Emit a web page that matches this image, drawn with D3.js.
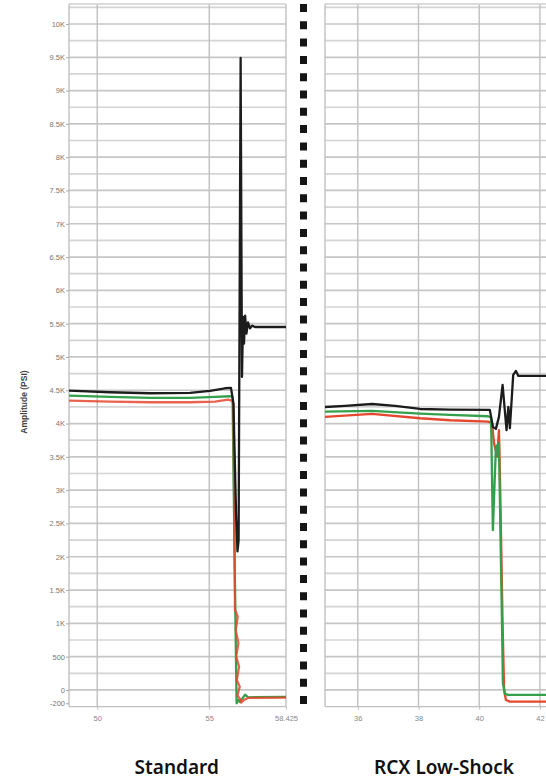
<!DOCTYPE html>
<html>
<head>
<meta charset="utf-8">
<script src="https://cdn.jsdelivr.net/npm/d3@7"></script>
<style>
  html, body { margin: 0; padding: 0; background: #fff; }
  svg { display: block; }
</style>
</head>
<body>
<svg id="chart" width="546" height="784"></svg>
<script>
// ---------- data ----------
const yTickValues = [-200, 0, 500, 1000, 1500, 2000, 2500, 3000, 3500, 4000, 4500, 5000, 5500, 6000, 6500, 7000, 7500, 8000, 8500, 9000, 9500, 10000];
const yTickLabels = ["-200", "0", "500", "1K", "1.5K", "2K", "2.5K", "3K", "3.5K", "4K", "4.5K", "5K", "5.5K", "6K", "6.5K", "7K", "7.5K", "8K", "8.5K", "9K", "9.5K", "10K"];
const leftXTicks = [50, 55, 58.425];
const leftXTickLabels = ["50", "55", "58.425"];
const rightXTicks = [36, 38, 40, 42];
const rightXTickLabels = ["36", "38", "40", "42"];
const panelTitles = ["Standard", "RCX Low-Shock"];
const yAxisTitle = "Amplitude (PSI)";

// Standard (left) series: [time, psi]
const stdBlack = [[48.74,4494],[50.57,4470],[52.36,4455],[54.14,4460],[55.03,4490],[55.70,4530],[55.97,4535],[56.08,4300],[56.20,2600],[56.26,2080],[56.31,2250],[56.40,9490],[56.46,4700],[56.51,5600],[56.55,5200],[56.60,5620],[56.66,5350],[56.73,5520],[56.82,5430],[56.91,5470],[57.04,5450],[58.425,5450]];
const stdGreen = [[48.74,4419],[50.57,4400],[52.36,4385],[54.14,4385],[55.26,4400],[55.93,4410],[56.04,4400],[56.13,2000],[56.22,-200],[56.28,-150],[56.37,-180],[56.60,-70],[56.73,-110],[58.425,-105]];
const stdRed = [[48.74,4344],[50.57,4330],[52.36,4320],[54.14,4320],[55.26,4330],[55.84,4360],[56.02,4340],[56.08,4300],[56.15,1200],[56.27,1100],[56.18,900],[56.30,700],[56.20,500],[56.33,350],[56.23,150],[56.36,50],[56.26,-80],[56.40,-150],[56.42,-190],[56.55,-150],[56.73,-120],[58.425,-115]];

// RCX Low-Shock (right) series: [time, psi]
const rcxBlack = [[34.92,4249],[35.58,4265],[36.47,4294],[37.23,4265],[38.05,4219],[39.04,4210],[40.35,4205],[40.45,3950],[40.55,3920],[40.65,4100],[40.77,4580],[40.90,3900],[40.96,4250],[41.01,3930],[41.12,4730],[41.21,4790],[41.29,4715],[42.2,4715]];
const rcxGreen = [[34.92,4180],[36.47,4190],[38.05,4150],[39.04,4130],[40.29,4110],[40.39,4090],[40.45,2400],[40.55,3650],[40.65,3700],[40.75,1000],[40.78,100],[40.85,-60],[40.95,-75],[42.2,-75]];
const rcxRed = [[34.92,4099],[36.47,4144],[38.05,4080],[39.04,4050],[40.29,4030],[40.42,4010],[40.49,3700],[40.59,3500],[40.65,3900],[40.68,3300],[40.77,1000],[40.82,0],[40.88,-150],[41.01,-175],[42.2,-175]];

// ---------- layout ----------
const svg = d3.select("#chart");
const yTop = 4, yBottom = 706.6;
const y = d3.scaleLinear().domain([-250, 10300]).range([yBottom, yTop]);
const xL = d3.scaleLinear().domain([48.74, 58.425]).range([69, 286]);
const xR = d3.scaleLinear().domain([34.92, 42.2]).range([325, 546]);

const gridVals = d3.range(0, 10251, 250);
const colors = { black: "#1c1c1c", green: "#35a04c", red: "#e5482f" };

function drawPanel(x, xTicks, xLabels, series, showY) {
  const [x0, x1] = x.range();
  const g = svg.append("g");
  g.selectAll("line.hg").data(gridVals).join("line")
    .attr("x1", x0).attr("x2", x1)
    .attr("y1", d => y(d)).attr("y2", d => y(d))
    .attr("stroke", d => d % 500 === 0 ? "#c6c6c6" : "#d4d4d4")
    .attr("stroke-width", 1.7);
  g.selectAll("line.vg").data(xTicks).join("line")
    .attr("x1", d => x(d)).attr("x2", d => x(d))
    .attr("y1", yTop).attr("y2", yBottom)
    .attr("stroke", "#c0c0c0").attr("stroke-width", 1.4);
  g.append("line").attr("x1", x0).attr("x2", x0).attr("y1", yTop).attr("y2", yBottom)
    .attr("stroke", "#c0c0c0").attr("stroke-width", 1.4);
  g.append("line").attr("x1", x0).attr("x2", x1).attr("y1", yTop).attr("y2", yTop)
    .attr("stroke", "#d0d0d0").attr("stroke-width", 1.3);
  g.append("line").attr("x1", x0).attr("x2", x1).attr("y1", yBottom).attr("y2", yBottom)
    .attr("stroke", "#c0c0c0").attr("stroke-width", 1.4);

  const xAxis = d3.axisBottom(x).tickValues(xTicks)
    .tickFormat((d, i) => xLabels[i]).tickSize(3).tickPadding(6);
  const ax = svg.append("g").attr("transform", `translate(0,${yBottom})`).call(xAxis);
  ax.select(".domain").remove();
  ax.selectAll("line").attr("stroke", "#bbb");
  ax.selectAll("text").attr("fill", "#888").attr("font-size", 7.5)
    .attr("font-family", "Liberation Sans, Arial, sans-serif");

  if (showY) {
    const yAxis = d3.axisLeft(y).tickValues(yTickValues)
      .tickFormat((d, i) => yTickLabels[i]).tickSize(3).tickPadding(1);
    const ay = svg.append("g").attr("transform", `translate(${x0},0)`).call(yAxis);
    ay.select(".domain").remove();
    ay.selectAll("line").attr("stroke", "#aaa");
    ay.selectAll("text").attr("fill", "#777").attr("font-size", 7.5)
      .attr("font-family", "Liberation Sans, Arial, sans-serif");
  }

  const line = d3.line().x(d => x(d[0])).y(d => y(d[1]));
  series.forEach(s => {
    svg.append("path").datum(s.data)
      .attr("d", line).attr("fill", "none")
      .attr("stroke", s.color).attr("stroke-width", s.width || 2.3)
      .attr("stroke-linejoin", "round")
      .attr("opacity", s.opacity || 1);
  });
}

drawPanel(xL, leftXTicks, leftXTickLabels, [
  { data: stdGreen, color: colors.green },
  { data: stdRed, color: colors.red, opacity: 0.85 },
  { data: stdBlack, color: colors.black }
], true);

drawPanel(xR, rightXTicks, rightXTickLabels, [
  { data: rcxRed, color: colors.red },
  { data: rcxGreen, color: colors.green },
  { data: rcxBlack, color: colors.black }
], false);

svg.append("line").attr("x1", 303.5).attr("x2", 303.5).attr("y1", 4).attr("y2", 712)
  .attr("stroke", "#151515").attr("stroke-width", 7).attr("stroke-dasharray", "8 9.3");

svg.append("text")
  .attr("transform", `translate(27,${402}) rotate(-90)`)
  .attr("text-anchor", "middle")
  .attr("font-family", "Liberation Sans, Arial, sans-serif")
  .attr("font-weight", "bold").attr("font-size", 8.5).attr("fill", "#444")
  .text(yAxisTitle);

svg.selectAll("text.ptitle").data(panelTitles).join("text")
  .attr("class", "ptitle")
  .attr("x", (d, i) => [176.7, 444][i]).attr("y", 774)
  .attr("text-anchor", "middle")
  .attr("font-family", "Noto Sans, Open Sans, sans-serif")
  .attr("font-weight", 600).attr("font-size", 19).attr("fill", "#111")
  .text(d => d);
</script>
</body>
</html>
